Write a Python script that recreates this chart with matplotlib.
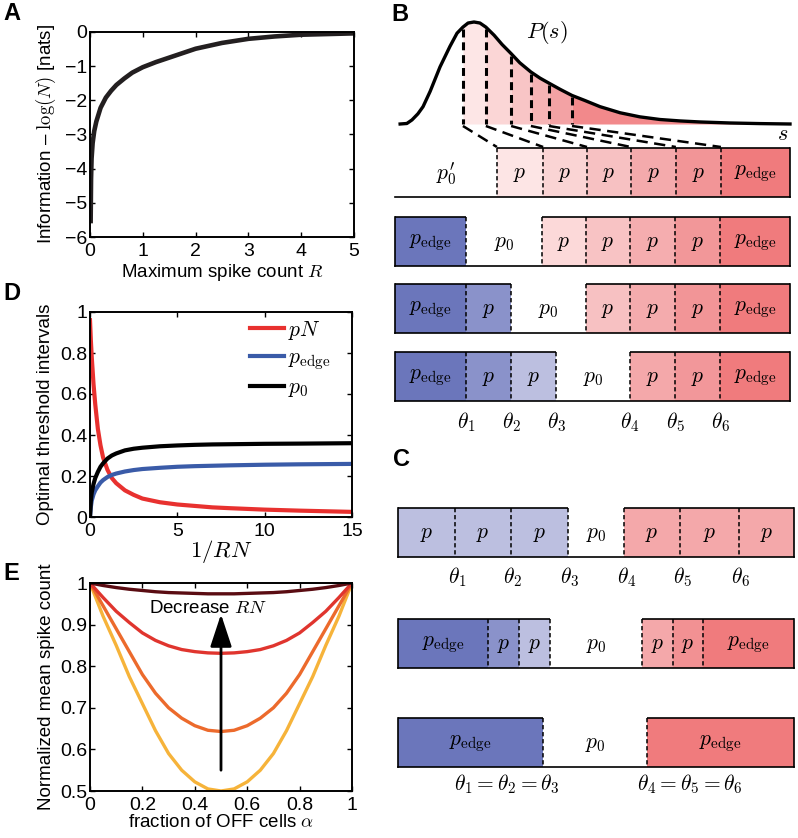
import numpy as np
import matplotlib
matplotlib.use('Agg')
import matplotlib.pyplot as plt
from matplotlib.patches import Rectangle, ArrowStyle

plt.rcParams['font.family'] = ['Liberation Sans', 'DejaVu Sans']
plt.rcParams['mathtext.fontset'] = 'cm'
plt.rcParams['axes.linewidth'] = 1.4
plt.rcParams['xtick.direction'] = 'in'
plt.rcParams['ytick.direction'] = 'in'
plt.rcParams['xtick.top'] = True
plt.rcParams['ytick.right'] = True
plt.rcParams['xtick.major.size'] = 3.5
plt.rcParams['ytick.major.size'] = 3.5
plt.rcParams['xtick.major.width'] = 1.0
plt.rcParams['ytick.major.width'] = 1.0
plt.rcParams['xtick.labelsize'] = 14
plt.rcParams['ytick.labelsize'] = 14

LFS = 13.5  # axis label size

# ---- panel A: information vs max spike count
R_vals = [0.012, 0.02, 0.03, 0.05, 0.08, 0.12, 0.2, 0.3, 0.4, 0.5, 0.65, 0.8,
          1.0, 1.25, 1.5, 2.0, 2.5, 3.0, 3.5, 4.0, 4.5, 5.0]
info_vals = [-5.6, -4.3, -3.7, -3.25, -2.9, -2.62, -2.22, -1.92, -1.72, -1.55, -1.36, -1.19,
             -1.03, -0.88, -0.75, -0.49, -0.32, -0.2, -0.13, -0.08, -0.06, -0.04]

# ---- panel D: optimal threshold intervals vs 1/RN
inv_rn = [0, 0.05, 0.1, 0.2, 0.3, 0.45, 0.6, 0.75, 1.0, 1.25, 1.5, 2.0, 2.5, 3, 4, 5,
          6, 7, 8, 10, 12, 15]
pN_vals = [0.96, 0.86, 0.78, 0.65, 0.55, 0.43, 0.35, 0.29, 0.23, 0.19, 0.165, 0.13,
           0.108, 0.09, 0.072, 0.061, 0.054, 0.047, 0.043, 0.036, 0.031, 0.025]
pedge_vals = [0, 0.05, 0.08, 0.11, 0.13, 0.15, 0.168, 0.18, 0.195, 0.205, 0.212, 0.222,
              0.229, 0.234, 0.24, 0.245, 0.248, 0.25, 0.252, 0.255, 0.257, 0.259]
p0_vals = [0, 0.08, 0.12, 0.16, 0.19, 0.22, 0.245, 0.262, 0.285, 0.3, 0.31, 0.325,
           0.333, 0.338, 0.345, 0.349, 0.352, 0.354, 0.355, 0.357, 0.358, 0.36]

# ---- panel E: normalized mean spike count vs fraction of OFF cells
alpha = [0, 0.05, 0.1, 0.15, 0.2, 0.25, 0.3, 0.35, 0.4, 0.45, 0.5,
         0.55, 0.6, 0.65, 0.7, 0.75, 0.8, 0.85, 0.9, 0.95, 1.0]
count_dark = [1.0, 0.994, 0.989, 0.985, 0.982, 0.979, 0.977, 0.976, 0.975, 0.974, 0.974,
              0.974, 0.975, 0.976, 0.977, 0.979, 0.982, 0.985, 0.989, 0.994, 1.0]
count_red = [1.0, 0.965, 0.932, 0.905, 0.88, 0.862, 0.849, 0.84, 0.835, 0.832, 0.831,
             0.832, 0.835, 0.84, 0.849, 0.862, 0.88, 0.905, 0.932, 0.965, 1.0]
count_orange = [1.0, 0.945, 0.89, 0.835, 0.78, 0.735, 0.70, 0.675, 0.657, 0.646, 0.643,
                0.646, 0.657, 0.675, 0.70, 0.735, 0.78, 0.835, 0.89, 0.945, 1.0]
count_yellow = [1.0, 0.92, 0.85, 0.775, 0.71, 0.645, 0.59, 0.55, 0.522, 0.505, 0.5,
                0.505, 0.522, 0.55, 0.59, 0.645, 0.71, 0.775, 0.85, 0.92, 1.0]

# ---- panel B: stimulus distribution (s normalised to bar width, P to peak)
s_vals = [0.013, 0.03, 0.043, 0.058, 0.071, 0.089, 0.114, 0.139, 0.157, 0.172, 0.185,
          0.2, 0.215, 0.23, 0.251, 0.271, 0.294, 0.316, 0.344, 0.367, 0.39, 0.418,
          0.448, 0.481, 0.519, 0.57, 0.62, 0.671, 0.722, 0.772, 0.848, 0.924, 1.0]
ps_vals = [0, 0.005, 0.04, 0.1, 0.17, 0.32, 0.56, 0.76, 0.89, 0.95, 0.99,
           1.0, 0.99, 0.95, 0.87, 0.78, 0.69, 0.6, 0.51, 0.45, 0.4, 0.34,
           0.28, 0.23, 0.17, 0.11, 0.07, 0.044, 0.03, 0.02, 0.01, 0.004, 0]
s_thresh = [0.172, 0.23, 0.294, 0.344, 0.39, 0.448]

# threshold positions (fraction of bar) and interval labels for each row
E = r'$p_{\mathrm{edge}}$'
P = r'$p$'
P0 = r'$p_0$'
b_thetas = [[0.258, 0.375, 0.486, 0.597, 0.711, 0.825],
            [0.18, 0.372, 0.484, 0.595, 0.709, 0.823],
            [0.18, 0.294, 0.484, 0.595, 0.709, 0.823],
            [0.18, 0.294, 0.408, 0.595, 0.709, 0.823]]
b_labels = [[r"$p_0'$", P, P, P, P, P, E],
            [E, P0, P, P, P, P, E],
            [E, P, P0, P, P, P, E],
            [E, P, P, P0, P, P, E]]
c_thetas = [[0.144, 0.285, 0.429, 0.571, 0.712, 0.861],
            [0.227, 0.306, 0.384, 0.616, 0.694, 0.770],
            [0.366, 0.366, 0.366, 0.629, 0.629, 0.629]]
c_labels = [[P, P, P, P0, P, P, P],
            [E, P, P, P0, P, P, E],
            [E, P, P, P0, P, P, E]]
theta_names = [r'$\theta_%d$' % k for k in range(1, 7)]

b_colors = [[None, '#fde5e5', '#fad4d4', '#f7c1c2', '#f4aaac', '#f29597', '#f07b7d'],
            ['#6b76bb', None, '#fcd9d9', '#f8c3c4', '#f5adaf', '#f29799', '#f07b7d'],
            ['#6b76bb', '#8a92ca', None, '#f7c1c2', '#f4abad', '#f29597', '#f07b7d'],
            ['#6b76bb', '#8a92ca', '#bcbfe0', None, '#f4a8aa', '#f2979a', '#f07b7d']]
c_colors = [['#bcbfe0'] * 3 + [None] + ['#f4a8aa'] * 3,
            ['#6b76bb', '#8a92ca', '#bcbfe0', None, '#f4a8aa', '#f29193', '#f07b7d'],
            ['#6b76bb', '#6b76bb', '#6b76bb', None, '#f07b7d', '#f07b7d', '#f07b7d']]
fill_colors = ['#fde6e6', '#fbd6d6', '#f8c5c6', '#f6b4b5', '#f3a2a4', '#f2898b']

fig = plt.figure(figsize=(7.98, 8.38), dpi=100)
W, H = 798.0, 838.0

# overlay in pixel units for the schematic panels
sk = fig.add_axes([0, 0, 1, 1])
sk.set_xlim(0, W)
sk.set_ylim(H, 0)
sk.axis('off')


def px_axes(l, t, r, b):
    return fig.add_axes([l / W, 1 - b / H, (r - l) / W, (b - t) / H])


FS = 15.5

def draw_row(thetas, labels, colors, top, bot, x0, x1):
    edges = [0] + list(thetas) + [1]
    xs = [x0 + e * (x1 - x0) for e in edges]
    for i in range(7):
        a, b = xs[i], xs[i + 1]
        if b - a <= 0:
            continue
        if colors[i] is not None:
            sk.add_patch(Rectangle((a, top), b - a, bot - top, fc=colors[i], ec='none'))
            sk.plot([a, b], [top, top], color='k', lw=1.2, solid_capstyle='butt')
        sk.text((a + b) / 2, (top + bot) / 2 + 1, labels[i], ha='center', va='center',
                fontsize=FS)
    sk.plot([x0, x1], [bot, bot], color='k', lw=1.2)
    if colors[0] is not None:
        sk.plot([x0, x0], [top, bot], color='k', lw=1.2)
    sk.plot([x1, x1], [top, bot], color='k', lw=1.2)
    for x in sorted(set(xs[1:-1])):
        sk.plot([x, x], [top, bot], color='k', lw=1.1, ls=(0, (2.8, 1.8)))
    return xs


# ---- B
bx0, bx1 = 395, 790
base, amp = 124, 102
sx = np.array([bx0 + s * (bx1 - bx0) for s in s_vals])
sy = np.array([base - p * amp for p in ps_vals])
tx = [bx0 + s * (bx1 - bx0) for s in s_thresh]
bounds = tx + [bx1]
for k in range(6):
    a, b = bounds[k], bounds[k + 1]
    inner = sx[(sx > a) & (sx < b)]
    xx = np.concatenate([[a], inner, [b]])
    yy = np.interp(xx, sx, sy)
    sk.fill_between(xx, yy, base, color=fill_colors[k], lw=0)
sk.plot(sx, sy, color='k', lw=2.4)
for x in tx:
    sk.plot([x, x], [np.interp(x, sx, sy) + 2, base], color='k', lw=2.2,
            ls=(0, (2.6, 1.6)))

row_tops = [148, 217, 284, 352]
row_h = 49
b_xs = []
for k in range(4):
    b_xs.append(draw_row(b_thetas[k], b_labels[k], b_colors[k],
                         row_tops[k], row_tops[k] + row_h, bx0, bx1))
for x, xb in zip(tx, b_xs[0][1:7]):
    sk.plot([x, xb], [base + 2, row_tops[0] - 1], color='k', lw=1.8,
            ls=(0, (4.5, 2.6)))
for x, name in zip(b_xs[3][1:7], theta_names):
    sk.text(x, 422, name, ha='center', va='center', fontsize=FS)
sk.text(547, 33, r'$P(s)$', ha='center', va='center', fontsize=FS + 0.5)
sk.text(783, 134, r'$s$', ha='center', va='center', fontsize=FS + 0.5)

# ---- C
cx0, cx1 = 398, 794
c_tops = [508, 619, 718]
c_xs = []
for k in range(3):
    c_xs.append(draw_row(c_thetas[k], c_labels[k], c_colors[k],
                         c_tops[k], c_tops[k] + row_h, cx0, cx1))
for x, name in zip(c_xs[0][1:7], theta_names):
    sk.text(x + 2, 577, name, ha='center', va='center', fontsize=FS)
sk.text(c_xs[2][3] - 36, 784, r'$\theta_1=\theta_2=\theta_3$', ha='center',
        va='center', fontsize=FS)
sk.text(c_xs[2][4] + 43, 784, r'$\theta_4=\theta_5=\theta_6$', ha='center',
        va='center', fontsize=FS)

# panel letters
for lab, x, y in [('A', 3, 2), ('B', 391, 3), ('C', 393, 448), ('D', 3, 282), ('E', 3, 562)]:
    sk.text(x, y, lab, ha='left', va='top', fontsize=17, fontweight='bold')

# ---- A
axA = px_axes(90, 32, 354, 237)
axA.plot(R_vals, info_vals, color='#231f20', lw=3.3, solid_capstyle='butt')
axA.set_xlim(0, 5)
axA.set_ylim(-6, 0)
axA.set_xticks(range(0, 6))
axA.set_yticks(range(-6, 1))
axA.set_xlabel(r'Maximum spike count $R$', fontsize=LFS, labelpad=2)
axA.set_ylabel(r'Information – $\log(N)$ [nats]', fontsize=LFS, labelpad=5)

# ---- D
axD = px_axes(90, 312, 352, 517)
axD.plot(inv_rn, pN_vals, color='#e8312f', lw=3, label=r'$pN$')
axD.plot(inv_rn, pedge_vals, color='#3a5ba8', lw=3, label=r'$p_{\mathrm{edge}}$')
axD.plot(inv_rn, p0_vals, color='k', lw=3, label=r'$p_0$')
axD.set_xlim(0, 15)
axD.set_ylim(0, 1)
axD.set_xticks([0, 5, 10, 15])
axD.set_yticks([0, 0.2, 0.4, 0.6, 0.8, 1])
axD.set_yticklabels(['0', '0.2', '0.4', '0.6', '0.8', '1'])
axD.set_xlabel(r'$1/RN$', fontsize=16.5, labelpad=-1)
axD.set_ylabel('Optimal threshold intervals', fontsize=LFS, labelpad=4)
axD.legend(loc='upper right', bbox_to_anchor=(0.985, 1.05), frameon=False, fontsize=15.5,
           handlelength=1.6, handletextpad=0.2, labelspacing=0.25, borderpad=0.3)

# ---- E
axE = px_axes(90, 583, 352, 791)
axE.plot(alpha, count_yellow, color='#f6b33a', lw=2.4)
axE.plot(alpha, count_orange, color='#ec6a2c', lw=2.4)
axE.plot(alpha, count_red, color='#e0352e', lw=2.4)
axE.plot(alpha, count_dark, color='#5a0c12', lw=2.4)
axE.set_xlim(0, 1)
axE.set_ylim(0.5, 1)
axE.set_xticks([0, 0.2, 0.4, 0.6, 0.8, 1])
axE.set_xticklabels(['0', '0.2', '0.4', '0.6', '0.8', '1'])
axE.set_yticks([0.5, 0.6, 0.7, 0.8, 0.9, 1])
axE.set_yticklabels(['0.5', '0.6', '0.7', '0.8', '0.9', '1'])
axE.annotate('', xy=(0.5, 0.925), xytext=(0.5, 0.55),
             arrowprops=dict(arrowstyle=ArrowStyle('-|>', head_length=1.0, head_width=0.33),
                             mutation_scale=20, lw=2, color='k', shrinkA=0, shrinkB=0))
axE.text(0.45, 0.938, r'Decrease $RN$', ha='center', va='center', fontsize=LFS)
axE.set_xlabel(r'fraction of OFF cells $\alpha$', fontsize=LFS, labelpad=0)
axE.set_ylabel('Normalized mean spike count', fontsize=LFS, labelpad=4)

for ax in (axA, axD, axE):
    ax.tick_params(axis='x', pad=4)
    ax.tick_params(axis='y', pad=2)

fig.savefig('out.png', dpi=100)
